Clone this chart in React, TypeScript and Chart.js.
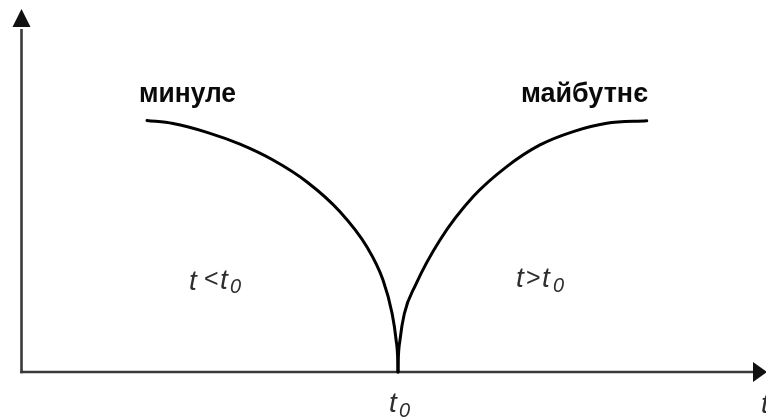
import React, { useEffect, useRef } from "react";
import { Chart, registerables } from "chart.js";

Chart.register(...registerables);

// Curve before t0 ("минуле"), in units of the half-width / full height of the arcs
const pastX = [-1.004, -0.9, -0.764, -0.632, -0.5, -0.364, -0.232, -0.124, -0.06, -0.024, -0.0076, -0.0008, 0];
const pastY = [0.998, 0.986, 0.951, 0.904, 0.841, 0.754, 0.636, 0.496, 0.365, 0.234, 0.127, 0.04, 0];

// Curve after t0 ("майбутнє")
const futureX = [0, 0.0008, 0.008, 0.025, 0.07, 0.168, 0.301, 0.435, 0.568, 0.701, 0.835, 0.995];
const futureY = [0, 0.04, 0.127, 0.23, 0.345, 0.524, 0.696, 0.815, 0.901, 0.954, 0.987, 0.997];

// Axis extents (data units)
const xRange = [-1.592, 1.472];
const yRange = [-0.1865, 1.476];
const yAxisAt = -1.506;
const yAxisTip = 1.44;
const yArrowBase = 1.369;
const xAxisTip = 1.476;
const xArrowBase = 1.42;

const regionLabels = ["минуле", "майбутнє"];
const timeSymbol = "t";
const zeroSub = "0";

const SANS = '"Liberation Sans", Arial, sans-serif';

function fitText(ctx: CanvasRenderingContext2D, text: string, font: string, left: number, right: number, baseline: number, sy: number) {
  ctx.save();
  ctx.font = font;
  ctx.textAlign = "left";
  ctx.textBaseline = "alphabetic";
  const w = ctx.measureText(text).width;
  const sx = (right - left) / w;
  ctx.translate(left, baseline);
  ctx.scale(sx, sy);
  ctx.fillText(text, 0, 0);
  ctx.restore();
}

function put(ctx: CanvasRenderingContext2D, text: string, font: string, x: number, y: number) {
  ctx.font = font;
  ctx.textAlign = "left";
  ctx.textBaseline = "alphabetic";
  ctx.fillText(text, x, y);
}

const decorPlugin = {
  id: "decor",
  beforeDatasetsDraw(chart: any) {
    const ctx: CanvasRenderingContext2D = chart.ctx;
    const xs = chart.scales.x;
    const ys = chart.scales.y;
    const ax = xs.getPixelForValue(yAxisAt);
    const ay = ys.getPixelForValue(0);
    ctx.save();
    ctx.strokeStyle = "#3a3a3a";
    ctx.fillStyle = "#111";
    ctx.lineWidth = 2.6;
    ctx.lineCap = "butt";
    ctx.beginPath();
    ctx.moveTo(ax, ay + 1.3);
    ctx.lineTo(ax, ys.getPixelForValue(yArrowBase) + 2);
    ctx.stroke();
    ctx.beginPath();
    ctx.moveTo(ax - 1.3, ay);
    ctx.lineTo(xs.getPixelForValue(xArrowBase) + 2, ay);
    ctx.stroke();
    const vb = ys.getPixelForValue(yArrowBase);
    const vt = ys.getPixelForValue(yAxisTip);
    ctx.beginPath();
    ctx.moveTo(ax, vt);
    ctx.lineTo(ax + 9, vb);
    ctx.lineTo(ax - 9, vb);
    ctx.closePath();
    ctx.fill();
    const hb = xs.getPixelForValue(xArrowBase);
    const ht = xs.getPixelForValue(xAxisTip);
    ctx.beginPath();
    ctx.moveTo(ht, ay);
    ctx.lineTo(hb, ay - 10);
    ctx.lineTo(hb, ay + 10);
    ctx.closePath();
    ctx.fill();
    ctx.restore();
  },
  afterDatasetsDraw(chart: any) {
    const ctx: CanvasRenderingContext2D = chart.ctx;
    ctx.save();
    ctx.fillStyle = "#0a0a0a";
    fitText(ctx, regionLabels[0], `bold 24px ${SANS}`, 139, 236, 102, 1.15);
    fitText(ctx, regionLabels[1], `bold 24px ${SANS}`, 521, 648, 102, 1.15);

    ctx.fillStyle = "#2e2e2e";
    const it = `italic 28px ${SANS}`;
    const sub = `italic 20px ${SANS}`;
    const rel = `25px ${SANS}`;
    // t<t0
    put(ctx, timeSymbol, it, 189, 290);
    put(ctx, "<", rel, 204, 287);
    put(ctx, timeSymbol, it, 220, 289);
    put(ctx, zeroSub, sub, 230, 293);
    // t>t0
    put(ctx, timeSymbol, it, 516, 287);
    put(ctx, ">", rel, 526, 286);
    put(ctx, timeSymbol, it, 542, 287);
    put(ctx, zeroSub, sub, 553, 292);
    // t0 under the axis
    put(ctx, timeSymbol, it, 389, 412);
    put(ctx, zeroSub, sub, 399, 417);
    // t at the end of the axis
    put(ctx, timeSymbol, it, 761, 413);
    ctx.restore();
  },
};

export default function App() {
  const ref = useRef<HTMLCanvasElement | null>(null);
  useEffect(() => {
    if (!ref.current) return;
    const chart = new Chart(ref.current, {
      type: "line",
      data: {
        datasets: [
          {
            label: regionLabels[0],
            data: pastX.map((x, i) => ({ x, y: pastY[i] })),
            borderColor: "#000",
            borderWidth: 3,
            borderCapStyle: "round",
            pointRadius: 0,
            cubicInterpolationMode: "monotone",
            fill: false,
          },
          {
            label: regionLabels[1],
            data: futureX.map((x, i) => ({ x, y: futureY[i] })),
            borderColor: "#000",
            borderWidth: 3,
            borderCapStyle: "round",
            pointRadius: 0,
            cubicInterpolationMode: "monotone",
            fill: false,
          },
        ],
      },
      options: {
        animation: false,
        responsive: false,
        layout: { padding: 0 },
        plugins: { legend: { display: false }, tooltip: { enabled: false } },
        scales: {
          x: { type: "linear", display: false, min: xRange[0], max: xRange[1] },
          y: { type: "linear", display: false, min: yRange[0], max: yRange[1] },
        },
      },
      plugins: [decorPlugin],
    } as any);
    return () => chart.destroy();
  }, []);
  return (
    <div style={{ position: "fixed", left: 0, top: 0, width: 766, height: 419, background: "#fff" }}>
      <canvas ref={ref} width={766} height={419} style={{ display: "block" }} />
    </div>
  );
}
